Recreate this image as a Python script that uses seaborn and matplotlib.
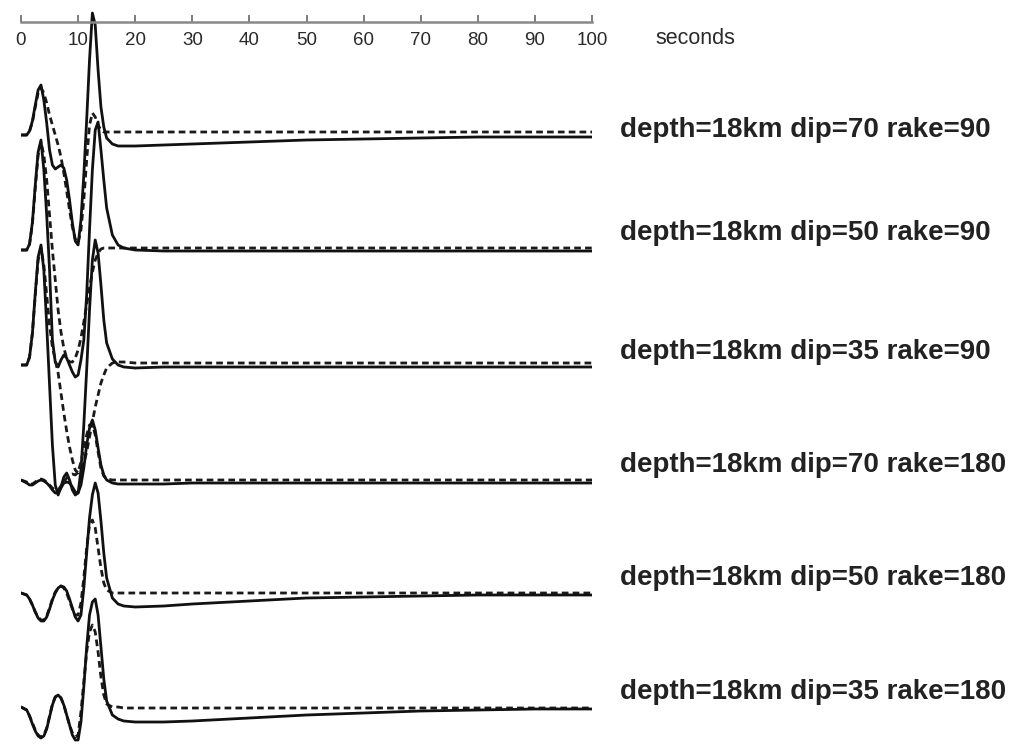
import numpy as np
import pandas as pd
import matplotlib
matplotlib.use("Agg")
import matplotlib.pyplot as plt
import seaborn as sns

# ---------------- data (amplitudes, arbitrary units, up = positive)
T = [0, 1, 1.5, 2, 2.5, 3, 3.5, 4, 4.5, 5, 5.5, 6, 6.5, 7, 7.5, 8, 8.5, 9, 9.5, 10,
     10.5, 11, 11.5, 12, 12.5, 13, 13.5, 14, 14.5, 15, 16, 17, 18, 20, 25, 30, 40,
     50, 60, 70, 80, 90, 100]

labels = ["depth=18km dip=70 rake=90", "depth=18km dip=50 rake=90",
          "depth=18km dip=35 rake=90", "depth=18km dip=70 rake=180",
          "depth=18km dip=50 rake=180", "depth=18km dip=35 rake=180"]

a1_solid = [0, 0, 4, 14, 30, 45, 50, 35, 12, -15, -30, -34, -32, -30, -33, -45, -65, -88, -106, -110,
            -85, -40, 15, 75, 122, 110, 65, 28, 8, -3, -9, -11, -11, -11, -10, -9, -7,
            -5, -4, -3, -2, -2, -2]
a1_dash = [0, 0, 4, 13, 28, 42, 47, 42, 32, 20, 10, 0, -10, -22, -38, -56, -75, -92, -104, -108,
           -95, -65, -25, 10, 22, 18, 10, 5, 3, 3, 3, 3, 3, 3, 3, 3, 3,
           3, 3, 3, 3, 3, 3]
a2_solid = [0, 0, 6, 28, 65, 98, 110, 80, 35, -20, -90, -112, -117, -110, -105, -108, -115, -122, -127, -125,
            -110, -90, -45, 20, 80, 120, 128, 100, 70, 42, 15, 5, 2, 0, -1, -1, -1,
            -1, -1, -1, -1, -1, -1]
a2_dash = [0, 0, 6, 26, 62, 95, 108, 95, 70, 35, 0, -30, -60, -82, -98, -108, -112, -112, -108, -100,
           -88, -72, -55, -38, -22, -10, -3, 1, 2, 2, 2, 2, 2, 2, 2, 2, 2,
           2, 2, 2, 2, 2, 2]
a3_solid = [0, 0, 8, 32, 72, 108, 120, 95, 40, -20, -80, -120, -130, -122, -112, -108, -115, -125, -130, -128,
            -105, -60, -5, 55, 105, 125, 112, 80, 45, 22, 6, 0, -2, -3, -2, -2, -2,
            -2, -2, -2, -2, -2, -2]
a3_dash = [0, 0, 8, 32, 70, 105, 117, 100, 70, 40, 18, 5, -8, -28, -48, -66, -82, -95, -105, -108,
           -105, -98, -87, -72, -57, -42, -30, -18, -10, -3, 2, 3, 3, 2, 2, 2, 2,
           2, 2, 2, 2, 2, 2]
a4_solid = [0, -3, -5, -5, -3, -1, 0, -1, -3, -6, -10, -13, -13, -8, -3, -2, -3, -7, -12, -13,
            -5, 12, 35, 52, 60, 50, 32, 15, 5, 0, -3, -4, -4, -4, -4, -3, -3,
            -3, -3, -3, -3, -3, -3]
a4_dash = [0, -2, -4, -4, -2, 0, 1, 0, -2, -5, -8, -10, -10, -6, -2, 2, 5, 6, 5, 8,
           18, 32, 45, 55, 56, 45, 28, 12, 4, 1, 0, 0, 0, 0, 0, 0, 0,
           0, 0, 0, 0, 0, 0]
a5_solid = [0, -2, -6, -12, -19, -25, -28, -28, -24, -16, -7, 0, 5, 7, 6, 2, -6, -15, -24, -28,
            -22, 5, 40, 75, 98, 110, 100, 72, 40, 15, -5, -11, -13, -14, -13, -11, -8,
            -5, -4, -3, -2, -2, -2]
a5_dash = [0, -2, -6, -12, -19, -24, -27, -27, -23, -15, -6, 1, 5, 7, 5, 0, -8, -16, -22, -22,
           -10, 15, 45, 68, 73, 65, 45, 25, 10, 3, 0, 0, 0, 0, 0, 0, 0,
           0, 0, 0, 0, 0, 0]
a6_solid = [0, -3, -9, -17, -24, -29, -31, -29, -22, -10, 2, 10, 12, 9, 2, -8, -18, -28, -33, -33,
            -15, 20, 60, 92, 105, 108, 92, 60, 28, 6, -8, -12, -14, -15, -15, -14, -11,
            -8, -6, -4, -3, -2, -2]
a6_dash = [0, -3, -9, -16, -23, -28, -30, -28, -21, -9, 3, 10, 12, 9, 2, -8, -18, -26, -30, -28,
           -5, 25, 55, 75, 82, 75, 55, 30, 12, 3, 0, 0, -1, -1, -1, -1, -1,
           -1, -1, -1, -1, -1, -1]

solids = [a1_solid, a2_solid, a3_solid, a4_solid, a5_solid, a6_solid]
dashes = [a1_dash, a2_dash, a3_dash, a4_dash, a5_dash, a6_dash]
tick_values = [0, 10, 20, 30, 40, 50, 60, 70, 80, 90, 100]

# ---------------- layout
W, H = 1016, 746
sns.set_theme(style="white")
plt.rcParams["font.family"] = ["Liberation Sans", "DejaVu Sans"]

fig = plt.figure(figsize=(W / 100, H / 100), dpi=100)
x0, x1 = 21, 592
ax = fig.add_axes([x0 / W, 0, (x1 - x0) / W, 1])
ax.set_xlim(0, 100)
ax.set_ylim(H, 0)
ax.axis("off")

baselines = [135, 250, 365, 480, 593, 707]
label_y = [130, 233, 352, 465, 578, 692]

for k in range(6):
    b = baselines[k]
    df_s = pd.DataFrame({"t": T, "y": [b - v for v in solids[k]]})
    df_d = pd.DataFrame({"t": T, "y": [b - v for v in dashes[k]]})
    sns.lineplot(data=df_d, x="t", y="y", ax=ax, color="#1a1a1a", linewidth=2.0,
                 linestyle=(0, (2.4, 1.5)), sort=False, estimator=None,
                 solid_joinstyle="round", dash_capstyle="butt")
    sns.lineplot(data=df_s, x="t", y="y", ax=ax, color="#111111", linewidth=2.0,
                 sort=False, estimator=None, solid_joinstyle="round",
                 solid_capstyle="round")
    fig.text(620 / W, 1 - label_y[k] / H, labels[k], fontsize=20, fontweight="bold",
             color="#222222", ha="left", va="center")

ax.set_xlabel("")
ax.set_ylabel("")

# time axis at top
axis_y = 22
ax_t = fig.add_axes([x0 / W, 1 - axis_y / H, (x1 - x0) / W, 0.001])
ax_t.set_xlim(0, 100)
ax_t.set_xticks(tick_values)
ax_t.set_xticklabels([str(v) for v in tick_values])
ax_t.set_yticks([])
ax_t.patch.set_alpha(0)
for s in ["top", "left", "right"]:
    ax_t.spines[s].set_visible(False)
ax_t.spines["bottom"].set_color("#888888")
ax_t.spines["bottom"].set_linewidth(1.8)
ax_t.tick_params(axis="x", direction="in", length=5, width=1.2, color="#666666",
                 labelsize=13.5, labelcolor="#2a2a2a", pad=7, bottom=True)
fig.text(655 / W, 1 - 39 / H, "seconds", fontsize=15.5, color="#2a2a2a",
         ha="left", va="center")

fig.savefig("out.png", dpi=100)
